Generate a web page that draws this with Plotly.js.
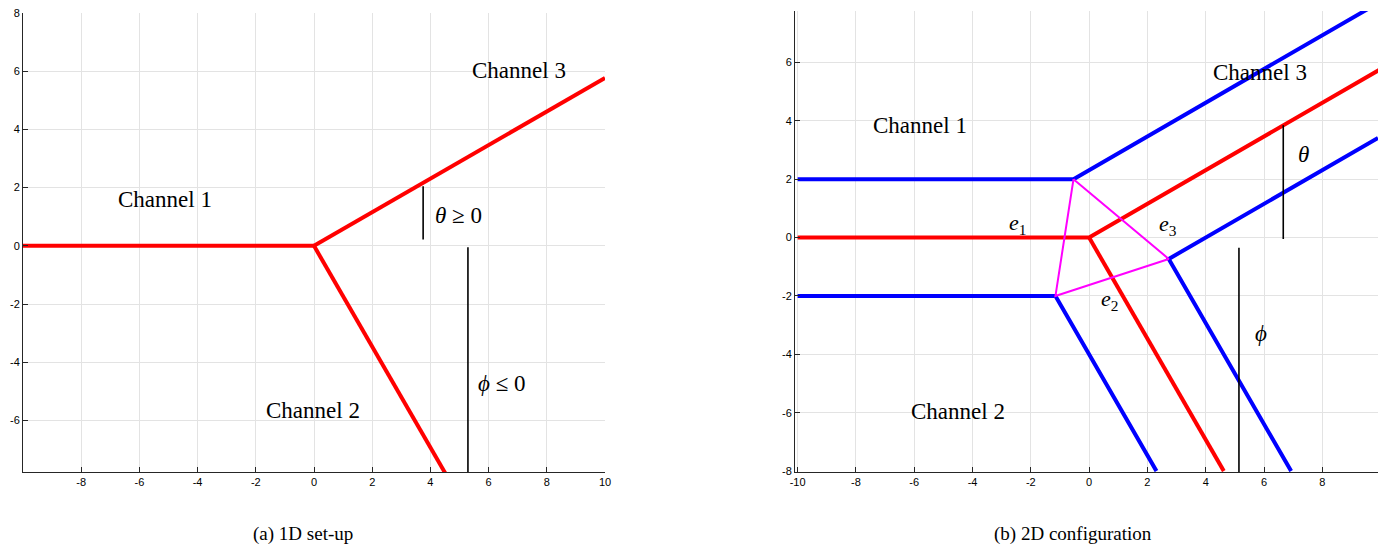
<!DOCTYPE html>
<html>
<head>
<meta charset="utf-8">
<script src="https://cdn.plot.ly/plotly-3.0.1.min.js"></script>
<style>html,body{margin:0;padding:0;background:#fff;}#chart{width:1386px;height:547px;}</style>
</head>
<body>
<div id="chart"></div>
<script>
// ---------- (a) 1D set-up ----------
const a_ch1X = [-10, 0];        const a_ch1Y = [0, 0];
const a_ch3X = [0, 10];         const a_ch3Y = [0, 5.77];
const a_ch2X = [0, 4.62];       const a_ch2Y = [0, -8];
const a_thetaX = [3.75, 3.75];  const a_thetaY = [2.05, 0.22];
const a_phiX = [5.29, 5.29];    const a_phiY = [-0.05, -8];
const a_xticks = [-8, -6, -4, -2, 0, 2, 4, 6, 8, 10];
const a_xlabels = ['-8', '-6', '-4', '-2', '0', '2', '4', '6', '8', '10'];
const a_yticks = [-6, -4, -2, 0, 2, 4, 6, 8];
const a_ylabels = ['-6', '-4', '-2', '0', '2', '4', '6', '8'];

// ---------- (b) 2D configuration ----------
const b_redX = [-10, 0, 10];        const b_redY = [0, 0, 5.77];
const b_redDownX = [0, 4.62];       const b_redDownY = [0, -8];
const b_upperX = [-10, -0.536, 9.91]; const b_upperY = [2, 2, 8.03];
const b_lowerX = [-10, -1.155, 2.31]; const b_lowerY = [-2, -2, -8];
const b_rightX = [9.91, 2.732, 6.93]; const b_rightY = [3.41, -0.732, -8];
const b_triX = [-0.536, -1.155, 2.732, -0.536]; const b_triY = [2, -2, -0.732, 2];
const b_thetaX = [6.66, 6.66];  const b_thetaY = [3.85, -0.05];
const b_phiX = [5.14, 5.14];    const b_phiY = [-0.35, -8.1];
const b_xticks = [-10, -8, -6, -4, -2, 0, 2, 4, 6, 8];
const b_xlabels = ['-10', '-8', '-6', '-4', '-2', '0', '2', '4', '6', '8'];
const b_yticks = [-8, -6, -4, -2, 0, 2, 4, 6];
const b_ylabels = ['-8', '-6', '-4', '-2', '0', '2', '4', '6'];

const RED = '#ff0000', BLUE = '#0000ff', MAG = '#ff00ff', BLK = '#000000';
function ln(x, y, color, width, xa, ya) {
  return {x: x, y: y, xaxis: xa, yaxis: ya, type: 'scatter', mode: 'lines',
          line: {color: color, width: width}, hoverinfo: 'skip', showlegend: false};
}

const data = [
  ln(a_ch1X, a_ch1Y, RED, 4, 'x', 'y'),
  ln(a_ch3X, a_ch3Y, RED, 4, 'x', 'y'),
  ln(a_ch2X, a_ch2Y, RED, 4, 'x', 'y'),
  ln(a_thetaX, a_thetaY, BLK, 1.6, 'x', 'y'),
  ln(a_phiX, a_phiY, BLK, 1.6, 'x', 'y'),

  ln(b_upperX, b_upperY, BLUE, 4, 'x2', 'y2'),
  ln(b_lowerX, b_lowerY, BLUE, 4, 'x2', 'y2'),
  ln(b_rightX, b_rightY, BLUE, 4, 'x2', 'y2'),
  ln(b_redX, b_redY, RED, 4, 'x2', 'y2'),
  ln(b_redDownX, b_redDownY, RED, 4, 'x2', 'y2'),
  ln(b_triX, b_triY, MAG, 2, 'x2', 'y2'),
  ln(b_thetaX, b_thetaY, BLK, 1.6, 'x2', 'y2'),
  ln(b_phiX, b_phiY, BLK, 1.6, 'x2', 'y2')
];

const tickFont = {family: 'Liberation Sans, Arial, sans-serif', size: 11, color: '#000'};
function axis(extra) {
  return Object.assign({
    showgrid: true, gridcolor: '#e3e3e3', gridwidth: 1,
    zeroline: false, showline: true, linecolor: '#262626', linewidth: 1,
    mirror: false, ticks: 'inside', ticklen: 5, tickwidth: 1, tickcolor: '#262626',
    tickfont: tickFont, tickmode: 'array', fixedrange: true
  }, extra);
}

const serif = 'Liberation Serif, Times New Roman, serif';
function lab(text, x, y, xref, yref, size) {
  return {text: text, x: x, y: y, xref: xref, yref: yref, showarrow: false,
          font: {family: serif, size: size || 23, color: '#000'}, xanchor: 'center', yanchor: 'middle'};
}
const PHI = '<i>\u03D5</i>';

const annotations = [
  lab('Channel 1', -5.12, 1.58, 'x', 'y'),
  lab('Channel 2', -0.03, -5.67, 'x', 'y'),
  lab('Channel 3', 7.04, 6.01, 'x', 'y'),
  lab('<i>θ</i> ≥ 0', 4.95, 1.03, 'x', 'y'),
  lab(PHI + ' ≤ 0', 6.46, -4.74, 'x', 'y'),

  lab('Channel 1', -5.8, 3.83, 'x2', 'y2'),
  lab('Channel 2', -4.49, -5.97, 'x2', 'y2'),
  lab('Channel 3', 5.87, 5.64, 'x2', 'y2'),
  lab('<i>e</i><sub>1</sub>', -2.44, 0.47, 'x2', 'y2', 22),
  lab('<i>e</i><sub>2</sub>', 0.69, -2.13, 'x2', 'y2', 22),
  lab('<i>e</i><sub>3</sub>', 2.71, 0.43, 'x2', 'y2', 22),
  lab('<i>θ</i>', 7.34, 2.83, 'x2', 'y2'),
  lab(PHI, 5.9, -3.27, 'x2', 'y2'),

  lab('(a) 1D set-up', 303/1386, 1 - 534/547, 'paper', 'paper', 19),
  lab('(b) 2D configuration', 1073/1386, 1 - 534/547, 'paper', 'paper', 19)
];

const layout = {
  width: 1386, height: 547,
  margin: {l: 0, r: 0, t: 0, b: 0},
  paper_bgcolor: '#fff', plot_bgcolor: '#fff',
  showlegend: false,
  xaxis: axis({domain: [23/1386, 605/1386], range: [-10, 10], tickvals: a_xticks, ticktext: a_xlabels, anchor: 'y'}),
  yaxis: axis({domain: [(547-472)/547, (547-13)/547], range: [-7.77, 8], tickvals: a_yticks, ticktext: a_ylabels, anchor: 'x'}),
  xaxis2: axis({domain: [795/1386, 1378/1386], range: [-10.09, 9.91], tickvals: b_xticks, ticktext: b_xlabels, anchor: 'y2'}),
  yaxis2: axis({domain: [(547-472)/547, (547-11)/547], range: [-8.03, 7.76], tickvals: b_yticks, ticktext: b_ylabels, anchor: 'x2'}),
  annotations: annotations
};

Plotly.newPlot('chart', data, layout, {staticPlot: true, displayModeBar: false});
</script>
</body>
</html>
